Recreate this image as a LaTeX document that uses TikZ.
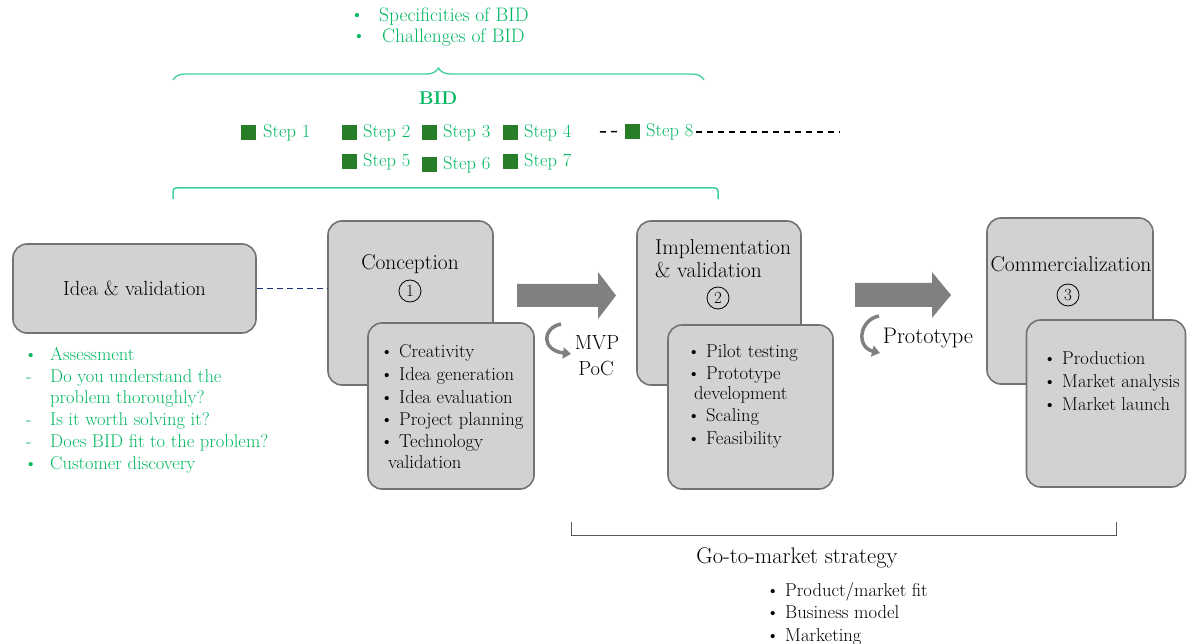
\documentclass[tikz,border=0pt]{standalone}
\usepackage{fontspec}
\usetikzlibrary{decorations.pathreplacing,arrows.meta}
\definecolor{bidgreen}{RGB}{0,184,96}
\definecolor{bracegreen}{RGB}{64,208,150}
\definecolor{stepgreen}{RGB}{40,125,40}
\definecolor{boxfill}{RGB}{210,210,210}
\definecolor{boxline}{RGB}{115,115,115}
\definecolor{arrowgray}{RGB}{128,128,128}
\definecolor{dashblue}{RGB}{30,50,120}
\begin{document}
\begin{tikzpicture}[x=1pt,y=-1pt,
  box/.style={draw=boxline, line width=1.6pt, fill=boxfill, rounded corners=14pt, inner sep=0pt},
  gtxt/.style={text=bidgreen, font=\fontsize{18.5}{21.6}\selectfont, inner sep=0pt},
  btxt/.style={font=\fontsize{18.6}{21.6}\selectfont, inner sep=0pt, anchor=base west},
  ttl/.style={font=\fontsize{21.5}{24}\selectfont, inner sep=0pt},
  circ/.style={draw, circle, line width=0.8pt, minimum size=22pt, inner sep=0pt, font=\fontsize{17}{20}\selectfont},
  sq/.style={fill=stepgreen, minimum size=15pt, inner sep=0pt},
  steptxt/.style={text=bidgreen, font=\fontsize{18.5}{21}\selectfont, inner sep=0pt, anchor=west},
  dashedeight/.style={black, line width=1.5pt, dash pattern=on 6pt off 5pt},
  bigarrow/.style={fill=arrowgray},
  curvearrow/.style={arrowgray, line width=3.5pt, -{Triangle[length=8pt,width=11pt]}},
  ]
\fill[white] (0,0) rectangle (1187,644);
\useasboundingbox (0,0) rectangle (1187,644);

% ---- top green texts
\node[gtxt] (specb) at (357,17) {\textbullet};
\node[gtxt, anchor=west, font=\fontsize{19.5}{22}\selectfont] (spec) at (379,17) {Specificities of BID};
\node[gtxt] (chalb) at (359,38) {\textbullet};
\node[gtxt, anchor=west, font=\fontsize{19.5}{22}\selectfont] (chal) at (382,38) {Challenges of BID};

% ---- brace
\coordinate (brL) at (173,80);
\coordinate (brR) at (704,80);
\draw[bracegreen, line width=1.3pt, decorate, decoration={brace, amplitude=12pt}] (brL) -- (brR);

\node[gtxt, font=\bfseries\fontsize{18.5}{20}\selectfont] (bid) at (438,98) {BID};

% ---- steps
\node[sq] (s1) at (248.5,132.5) {};  \node[steptxt] (s1t) at (263,133) {Step 1};
\node[sq] (s2) at (349.5,132.5) {};  \node[steptxt] (s2t) at (363,133) {Step 2};
\node[sq] (s3) at (429.5,132.5) {};  \node[steptxt] (s3t) at (443,133) {Step 3};
\node[sq] (s4) at (510,132.5) {};    \node[steptxt] (s4t) at (524,133) {Step 4};
\node[sq] (s8) at (632,131.5) {};    \node[steptxt] (s8t) at (646,132) {Step 8};
\node[sq] (s5) at (349.5,162) {};    \node[steptxt] (s5t) at (363,162) {Step 5};
\node[sq] (s6) at (429.5,164.5) {};  \node[steptxt] (s6t) at (443,165) {Step 6};
\node[sq] (s7) at (510.5,162) {};    \node[steptxt] (s7t) at (524,162) {Step 7};
\coordinate (d8a) at (600,132);
\coordinate (d8b) at (840,132);
\draw[dashedeight] (d8a) -- ([xshift=-3pt]s8.west);
\draw[dashedeight] ([xshift=3pt]s8t.east) -- (d8b);

% ---- green bracket
\coordinate (gbL) at (173,199);
\coordinate (gbR) at (718,199);
\draw[bracegreen, line width=1.5pt, rounded corners=3pt] (gbL) -- (173,188) -- (718,188) -- (gbR);

% ---- idea box
\node[box, minimum width=243pt, minimum height=89pt, font=\fontsize{20.5}{24}\selectfont] (idea) at (134.5,288.5) {Idea \& validation};

% ---- left green list
\node[gtxt, anchor=base west] (l1b) at (24,361) {\textbullet};
\node[gtxt, anchor=base west] (l1) at (50,361) {Assessment};
\node[gtxt, anchor=base west] (l2b) at (26,383) {-};
\node[gtxt, anchor=base west] (l2) at (50,383) {Do you understand the};
\node[gtxt, anchor=base west] (l3) at (50,404) {problem thoroughly?};
\node[gtxt, anchor=base west] (l4b) at (26,426) {-};
\node[gtxt, anchor=base west] (l4) at (50,426) {Is it worth solving it?};
\node[gtxt, anchor=base west] (l5b) at (26,448) {-};
\node[gtxt, anchor=base west] (l5) at (50,448) {Does BID fit to the problem?};
\node[gtxt, anchor=base west] (l6b) at (24,469) {\textbullet};
\node[gtxt, anchor=base west] (l6) at (50,469) {Customer discovery};

% ---- conception
\node[box, minimum width=165pt, minimum height=164pt] (conc) at (410.5,303) {};
\node[ttl] (conct) at (410,264) {Conception};
\node[circ] (c1) at (410,291) {1};
\draw[dashblue, line width=1.5pt, dash pattern=on 6pt off 4pt] (idea.east) -- (idea.east -| conc.west);
\node[box, minimum width=166pt, minimum height=166pt] (concs) at (451,406) {};
\node[btxt] (ca) at (380,358) {\textbullet\ Creativity};
\node[btxt] (cb) at (380,381) {\textbullet\ Idea generation};
\node[btxt] (cc) at (380,403) {\textbullet\ Idea evaluation};
\node[btxt] (cd) at (380,425) {\textbullet\ Project planning};
\node[btxt] (ce) at (380,448) {\textbullet\ Technology};
\node[btxt] (cf) at (388,468) {validation};

% ---- arrow 1
\fill[bigarrow] (517,284) -- (598,284) -- (598,272) -- (616,295.5) -- (598,319) -- (598,307) -- (517,307) -- cycle;
\coordinate (ca1) at (561,324);
\coordinate (ca2) at (571,354);
\draw[curvearrow] (ca1) .. controls (542,328) and (541,350) .. (ca2);
\node[font=\fontsize{20.5}{24}\selectfont, inner sep=0pt] (mvp) at (597,343) {MVP};
\node[font=\fontsize{20.5}{24}\selectfont, inner sep=0pt] (poc) at (596,368) {PoC};

% ---- implementation
\node[box, minimum width=164pt, minimum height=164pt] (impl) at (719,303) {};
\node[ttl, anchor=base west] (implt) at (655,255) {Implementation};
\node[ttl, anchor=base west] (implt2) at (655,278) {\& validation};
\node[circ] (c2) at (718,298) {2};
\node[box, minimum width=165pt, minimum height=164pt] (impls) at (750.5,407) {};
\node[btxt] (ia) at (687,358) {\textbullet\ Pilot testing};
\node[btxt] (ib) at (687,380) {\textbullet\ Prototype};
\node[btxt] (ic) at (694,400) {development};
\node[btxt] (id) at (687,422) {\textbullet\ Scaling};
\node[btxt] (ie) at (687,445) {\textbullet\ Feasibility};

% ---- arrow 2
\fill[bigarrow] (855,283) -- (932,283) -- (932,272) -- (951,295) -- (932,318) -- (932,307) -- (855,307) -- cycle;
\coordinate (cb1) at (879,316);
\coordinate (cb2) at (880,353);
\draw[curvearrow] (cb1) .. controls (859,320) and (856,347) .. (cb2);
\node[font=\fontsize{22.5}{26}\selectfont, inner sep=0pt] (proto) at (928,338) {Prototype};

% ---- commercialization
\node[box, minimum width=166pt, minimum height=166pt] (comm) at (1070,301) {};
\node[ttl] (commt) at (1071,264) {Commercialization};
\node[circ] (c3) at (1068,295) {3};
\node[box, minimum width=159pt, minimum height=167pt] (comms) at (1106,403.5) {};
\node[btxt] (ma) at (1043,365) {\textbullet\ Production};
\node[btxt] (mb) at (1043,388) {\textbullet\ Market analysis};
\node[btxt] (mc) at (1043,411) {\textbullet\ Market launch};

% ---- go-to-market bracket
\coordinate (kbL) at (571,522);
\coordinate (kbR) at (1116,522);
\draw[black!65, line width=1pt] (kbL) -- (571,535) -- (1116,535) -- (kbR);
\node[font=\fontsize{22.5}{26}\selectfont, inner sep=0pt] (gtm) at (797,558) {Go-to-market strategy};
\node[btxt] (ga) at (766,596) {\textbullet\ Product/market fit};
\node[btxt] (gb) at (766,618) {\textbullet\ Business model};
\node[btxt] (gc) at (766,641) {\textbullet\ Marketing};
\end{tikzpicture}
\end{document}
